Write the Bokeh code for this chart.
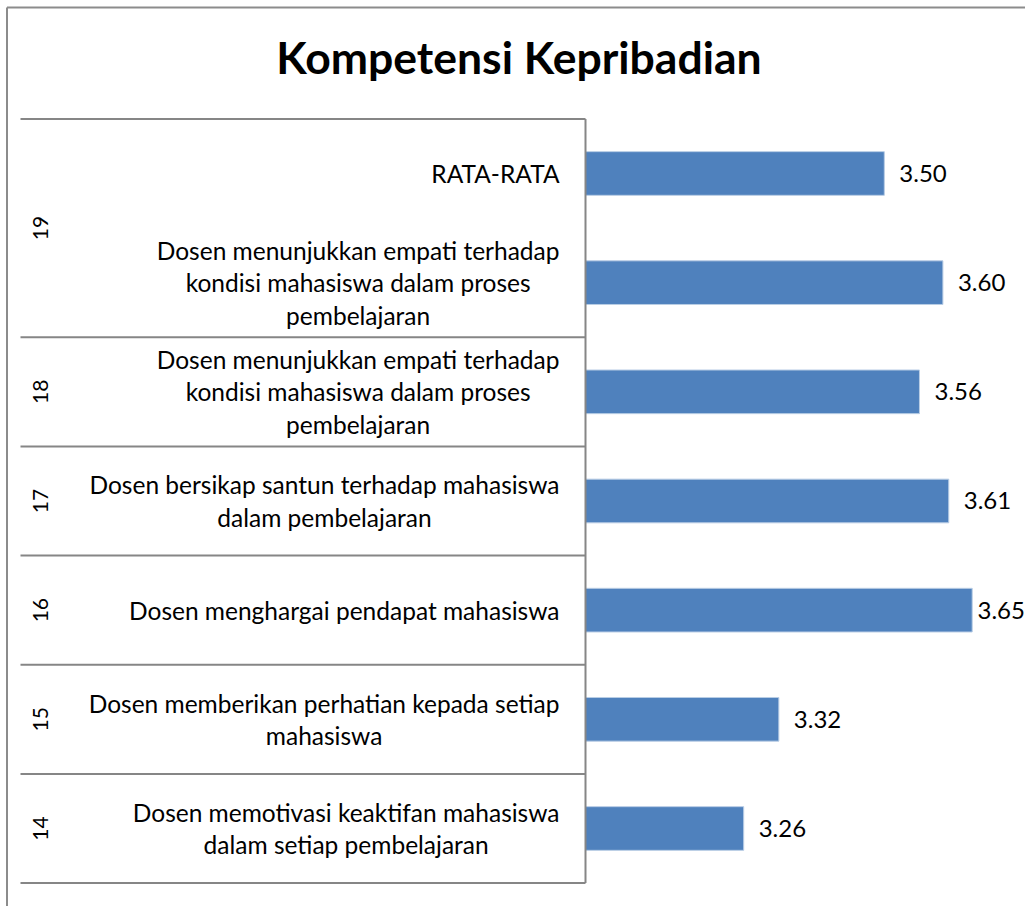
import numpy as np
from bokeh.plotting import figure
from bokeh.models import Range1d, Label
from bokeh.embed import file_html
from bokeh.resources import INLINE
from bokeh.core.properties import value

# ---------------- data (bottom row first) ----------------
title_text = "Kompetensi Kepribadian"
groups = ["14", "15", "16", "17", "18", "19", "19"]
labels = [
    "Dosen memotivasi keaktifan mahasiswa\ndalam setiap pembelajaran",
    "Dosen memberikan perhatian kepada setiap\nmahasiswa",
    "Dosen menghargai pendapat mahasiswa",
    "Dosen bersikap santun terhadap mahasiswa\ndalam pembelajaran",
    "Dosen menunjukkan empati terhadap\nkondisi mahasiswa dalam proses\npembelajaran",
    "Dosen menunjukkan empati terhadap\nkondisi mahasiswa dalam proses\npembelajaran",
    "RATA-RATA",
]
values = [3.26, 3.32, 3.65, 3.61, 3.56, 3.60, 3.50]
AXIS_MIN = 2.99

# ---------------- layout (pixels) ----------------
W, H = 1025, 906
BASE_PX = 585.0        # canvas x of the value-axis baseline
PX_PER_UNIT = 585.9    # pixels per value unit
ROW_PX = 109.17        # row pitch
ROW0_PY = 828.0        # canvas y (from top) of bottom row centre
FONT = "Lato"

x_start = AXIS_MIN - BASE_PX / PX_PER_UNIT
x_end = x_start + W / PX_PER_UNIT
y_top = ROW0_PY / ROW_PX
y_bottom = (ROW0_PY - H) / ROW_PX


def xd(px):
    return x_start + px / PX_PER_UNIT


def yd(py):
    return (ROW0_PY - py) / ROW_PX


p = figure(width=W, height=H, x_range=Range1d(x_start, x_end),
           y_range=Range1d(y_bottom, y_top), output_backend="svg",
           toolbar_location=None, tools="", min_border=0,
           x_axis_location=None, y_axis_location=None)
p.grid.visible = False
p.outline_line_color = None
p.background_fill_color = "white"
p.border_fill_color = "white"

rows = np.arange(len(values))

# bars
p.hbar(y=rows, left=AXIS_MIN, right=values, height=0.4,
       fill_color="#4F81BD", line_color="#B9CDE5", line_width=1)

# value labels
LABEL_W = 47
offsets = []
for v in values:
    bar_px = BASE_PX + (v - AXIS_MIN) * PX_PER_UNIT
    offsets.append(min(15.0, (W - 1 - LABEL_W) - bar_px))
p.text(x=values, y=rows, text=[f"{v:.2f}" for v in values], x_offset=offsets,
       text_align="left", text_baseline="middle",
       text_font=value(FONT), text_font_size="24px", text_color="#000000")

# category labels
p.text(x=xd(559), y=rows, text=labels, anchor="center_right",
       text_align="center", text_baseline="middle", text_line_height=1.12,
       text_font=value(FONT), text_font_size="24.5px", text_color="#000000")

# group labels (rotated)
gnames, gcenters = [], []
for g in dict.fromkeys(groups):
    idx = [i for i, gg in enumerate(groups) if gg == g]
    gnames.append(g)
    gcenters.append(float(np.mean(idx)))
p.text(x=xd(39.5), y=gcenters, text=gnames, angle=np.pi / 2,
       text_align="center", text_baseline="middle",
       text_font=value(FONT), text_font_size="21px", text_color="#000000")

# separators
bounds = [-0.5] + [i + 0.5 for i in range(len(groups) - 1) if groups[i] != groups[i + 1]] + [len(groups) - 0.5]
p.segment(x0=xd(20), x1=AXIS_MIN, y0=bounds, y1=bounds,
          line_color="#868686", line_width=2)
p.segment(x0=[AXIS_MIN], x1=[AXIS_MIN], y0=[-0.5], y1=[len(groups) - 0.5],
          line_color="#868686", line_width=2)

# outer chart border (left and top visible)
p.segment(x0=[xd(6.5), xd(6.5)], x1=[xd(6.5), xd(W)], y0=[yd(7), yd(7)], y1=[yd(H), yd(7)],
          line_color="#8C8C8C", line_width=2)

# title
p.add_layout(Label(x=xd(518.5), y=yd(56), text=title_text, text_align="center",
                   text_baseline="middle", text_font=FONT, text_font_style="bold",
                   text_font_size="44.5px", text_color="#000000"))

open("out.html", "w").write(file_html(p, INLINE))
